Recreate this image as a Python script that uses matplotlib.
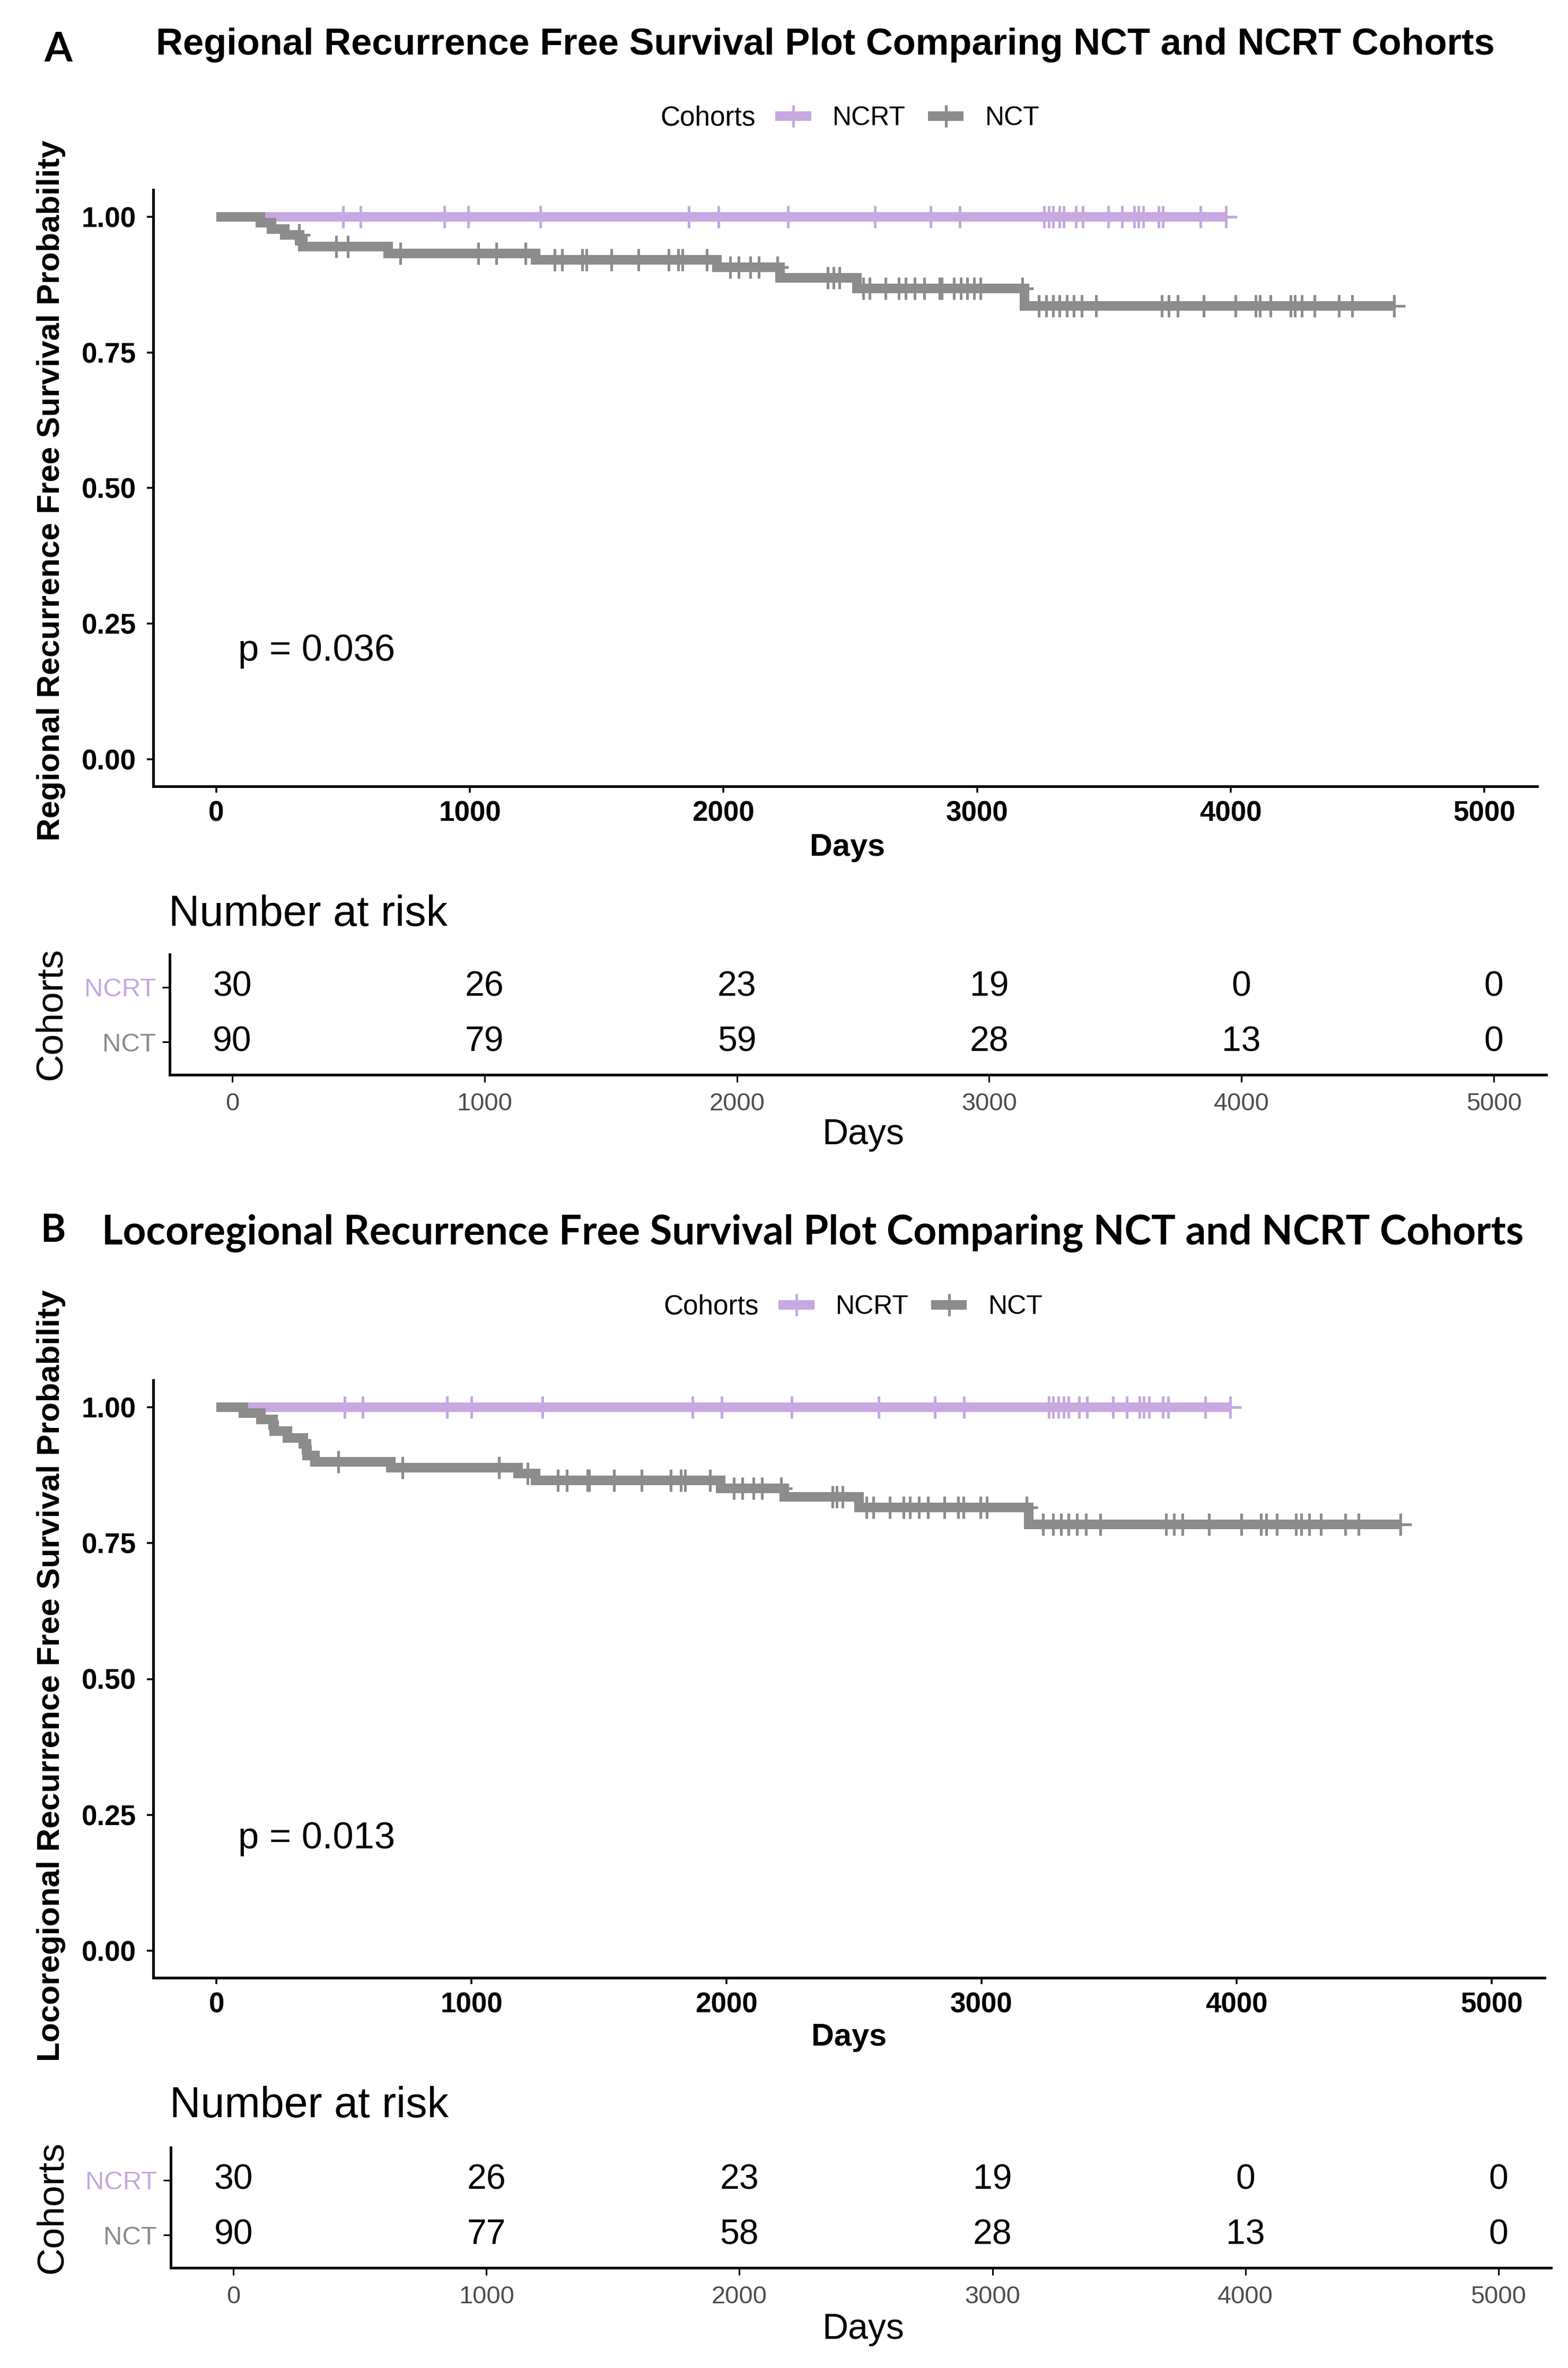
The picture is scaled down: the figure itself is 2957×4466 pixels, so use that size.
import numpy as np
import matplotlib
matplotlib.use('Agg')
import matplotlib.pyplot as plt
from matplotlib.lines import Line2D

plt.rcParams['font.family'] = ['Liberation Sans', 'DejaVu Sans']

# ---------------- data ----------------
cohorts = ['NCRT', 'NCT']
risk_times = [0, 1000, 2000, 3000, 4000, 5000]
x_ticks = [0, 1000, 2000, 3000, 4000, 5000]
y_ticks = [0.00, 0.25, 0.50, 0.75, 1.00]

# Panel A - regional recurrence free survival
A_ncrt_times = [0]
A_ncrt_surv = [1.0]
A_ncrt_cens = [500, 569, 900, 994, 1277, 1863, 1981, 2255, 2598, 2817, 2931, 3264, 3282,
               3299, 3325, 3342, 3389, 3417, 3516, 3571, 3620, 3637, 3654, 3715, 3733, 3880, 3980]
A_nct_times = [0, 175, 219, 271, 330, 342, 678, 1259, 1974, 2222, 2525, 3186]
A_nct_surv = [1.0, 0.989, 0.978, 0.967, 0.956, 0.945, 0.933, 0.921, 0.907, 0.888, 0.868, 0.836]
A_nct_cens = [326, 474, 519, 727, 1034, 1105, 1219, 1334, 1363, 1443, 1460, 1559, 1665, 1783,
              1821, 1838, 1934, 2027, 2060, 2105, 2140, 2213, 2412, 2433, 2456, 2551, 2577, 2638,
              2692, 2718, 2753, 2791, 2853, 2860, 2909, 2935, 2961, 2987, 3013, 3178, 3243, 3273,
              3299, 3325, 3354, 3382, 3412, 3469, 3727, 3755, 3790, 3894, 4019, 4097, 4114, 4157,
              4235, 4253, 4279, 4331, 4426, 4478, 4643]
A_risk_ncrt = [30, 26, 23, 19, 0, 0]
A_risk_nct = [90, 79, 59, 28, 13, 0]
A_pval = 'p = 0.036'

# Panel B - locoregional recurrence free survival
B_ncrt_times = [0]
B_ncrt_surv = [1.0]
B_ncrt_cens = [502, 573, 904, 999, 1278, 1867, 1981, 2255, 2596, 2816, 2932, 3263, 3280,
               3302, 3323, 3340, 3383, 3413, 3516, 3569, 3619, 3637, 3657, 3711, 3731, 3878, 3974]
B_nct_times = [0, 106, 174, 222, 226, 278, 340, 352, 356, 386, 683, 1183, 1252, 1976, 2226, 2519, 3185]
B_nct_surv = [1.0, 0.989, 0.978, 0.967, 0.956, 0.944, 0.933, 0.922, 0.911, 0.900, 0.889, 0.878,
              0.866, 0.851, 0.835, 0.816, 0.785]
B_nct_cens = [478, 730, 1107, 1220, 1338, 1373, 1455, 1462, 1559, 1666, 1781, 1821, 1838, 1936,
              2028, 2062, 2105, 2140, 2214, 2416, 2433, 2455, 2548, 2576, 2640, 2694, 2719, 2754,
              2789, 2854, 2909, 2930, 2995, 3021, 3176, 3242, 3280, 3311, 3340, 3375, 3409, 3466,
              3723, 3754, 3788, 3892, 4018, 4095, 4116, 4159, 4233, 4254, 4285, 4331, 4426, 4478, 4642]
B_risk_ncrt = [30, 26, 23, 19, 0, 0]
B_risk_nct = [90, 77, 58, 28, 13, 0]
B_pval = 'p = 0.013'

# ---------------- style ----------------
C_NCRT = '#C6A9E0'
C_NCT = '#8C8C8C'
W, H, DPI = 2957, 4466, 300
XLIM = (-248, 5208)
LW_PX = 18
MS_PX = 42
MEW_PX = 5

fig = plt.figure(figsize=(W / DPI, H / DPI), dpi=DPI)
fig.patch.set_facecolor('white')


def pt(px):
    return px * 72.0 / DPI


def rect(x0, y0, x1, y1):
    return [x0 / W, 1 - y1 / H, (x1 - x0) / W, (y1 - y0) / H]


def ftext(x, y, s, **kw):
    return fig.text(x / W, 1 - y / H, s, **kw)


def fit(t, target, along='w'):
    r = fig.canvas.get_renderer()
    bb = t.get_window_extent(renderer=r)
    cur = bb.width if along == 'w' else bb.height
    t.set_fontsize(t.get_fontsize() * target / cur)


def style_spines(ax):
    for s in ['top', 'right']:
        ax.spines[s].set_visible(False)
    for s in ['left', 'bottom']:
        ax.spines[s].set_linewidth(pt(5))


def km_panel(box, curves, pval, pval_xy):
    ax = fig.add_axes(rect(*box))
    ax.set_facecolor('white')
    for times, surv, cens, col in curves:
        t = np.asarray(times, float)
        s = np.asarray(surv, float)
        c = np.asarray(cens, float)
        end = max(t.max(), c.max())
        xs = np.append(t, end)
        ys = np.append(s, s[-1])
        ax.step(xs, ys, where='post', color=col, lw=pt(LW_PX),
                solid_capstyle='butt', solid_joinstyle='miter', zorder=2)
        cy = s[np.searchsorted(t, c, side='right') - 1]
        ax.plot(c, cy, ls='none', marker='+', ms=pt(MS_PX), mew=pt(MEW_PX), color=col, zorder=3)
    ax.set_xlim(*XLIM)
    ax.set_ylim(-0.05, 1.05)
    ax.set_xticks(x_ticks)
    ax.set_xticklabels([str(v) for v in x_ticks])
    ax.set_yticks(y_ticks)
    ax.set_yticklabels(['%.2f' % v for v in y_ticks])
    ax.tick_params(axis='both', length=pt(12), width=pt(3.5), labelsize=pt(53), color='black',
                   labelcolor='black')
    ax.tick_params(axis='x', pad=pt(15))
    ax.tick_params(axis='y', pad=pt(20))
    for lab in ax.get_xticklabels() + ax.get_yticklabels():
        lab.set_fontweight('bold')
    style_spines(ax)
    t = ax.text(0, 0, pval, transform=fig.transFigure, ha='left', va='center', fontsize=pt(70))
    t.set_position((pval_xy[0] / W, 1 - pval_xy[1] / H))
    fit(t, 296)
    return ax


def risk_panel(box, ncrt_n, nct_n):
    ax = fig.add_axes(rect(*box))
    ax.set_xlim(*XLIM)
    ax.set_ylim(2.6, 0.4)
    for i, vals in enumerate([ncrt_n, nct_n]):
        for tt, n in zip(risk_times, vals):
            ax.text(tt, i + 1, str(n), ha='center', va='center', fontsize=pt(66), color='black')
    ax.set_yticks([1, 2])
    ax.set_yticklabels(cohorts)
    for lab, col in zip(ax.get_yticklabels(), [C_NCRT, C_NCT]):
        lab.set_color(col)
    ax.set_xticks(risk_times)
    ax.set_xticklabels([str(v) for v in risk_times])
    ax.tick_params(axis='y', length=pt(14), width=pt(3), labelsize=pt(49), pad=pt(12))
    ax.tick_params(axis='x', length=pt(14), width=pt(3), labelsize=pt(47), pad=pt(19),
                   labelcolor='#4D4D4D')
    style_spines(ax)
    return ax


def legend(y, cohorts_left, handle_left):
    t = ftext(cohorts_left, y, 'Cohorts', ha='left', va='center', fontsize=pt(50))
    fit(t, 180)
    handles = [Line2D([], [], color=C_NCRT, lw=pt(LW_PX), marker='+', ms=pt(MS_PX),
                      mew=pt(MEW_PX), solid_capstyle='butt'),
               Line2D([], [], color=C_NCT, lw=pt(LW_PX), marker='+', ms=pt(MS_PX),
                      mew=pt(MEW_PX), solid_capstyle='butt')]
    fig.legend(handles, cohorts, loc='center left',
               bbox_to_anchor=(handle_left / W, 1 - y / H), ncol=2, frameon=False,
               fontsize=pt(50), handlelength=1.35, handletextpad=0.8, columnspacing=0.85,
               borderpad=0, borderaxespad=0, numpoints=1)


# ---------------- Panel A ----------------
ftext(110, 94, 'A', family=['Lato', 'DejaVu Sans'], fontweight='bold', fontsize=pt(76),
      ha='center', va='center')
t = ftext(1556, 103, 'Regional Recurrence Free Survival Plot Comparing NCT and NCRT Cohorts',
          fontweight='bold', fontsize=pt(64), ha='center', va='baseline')
fit(t, 2529)
legend(223, 1245, 1462)
km_panel((289, 358, 2899, 1483),
         [(A_ncrt_times, A_ncrt_surv, A_ncrt_cens, C_NCRT),
          (A_nct_times, A_nct_surv, A_nct_cens, C_NCT)], A_pval, (449, 1228))
t = ftext(97, 925, 'Regional Recurrence Free Survival Probability', rotation=90,
          fontweight='bold', fontsize=pt(54), ha='center', va='center')
fit(t, 1322, 'h')
t = ftext(1598, 1598, 'Days', fontweight='bold', fontsize=pt(59), ha='center', va='center')
fit(t, 142)
t = ftext(318, 1725, 'Number at risk', fontsize=pt(80), ha='left', va='center')
fit(t, 526)
risk_panel((320, 1800, 2916, 2027), A_risk_ncrt, A_risk_nct)
t = ftext(97, 1912, 'Cohorts', rotation=90, fontsize=pt(70), ha='center', va='center')
fit(t, 250, 'h')
t = ftext(1628, 2140, 'Days', fontsize=pt(68), ha='center', va='center')
fit(t, 155)

# ---------------- Panel B ----------------
ftext(100, 2322, 'B', family=['Lato', 'DejaVu Sans'], fontweight='bold', fontsize=pt(72),
      ha='center', va='center')
t = ftext(1533, 2347, 'Locoregional Recurrence Free Survival Plot Comparing NCT and NCRT Cohorts',
          family=['Lato', 'DejaVu Sans'], fontweight='bold', fontsize=pt(66), ha='center',
          va='baseline')
fit(t, 2688)
legend(2465, 1251, 1468)
km_panel((289, 2603, 2913, 3730),
         [(B_ncrt_times, B_ncrt_surv, B_ncrt_cens, C_NCRT),
          (B_nct_times, B_nct_surv, B_nct_cens, C_NCT)], B_pval, (449, 3468))
t = ftext(97, 3160, 'Locoregional Recurrence Free Survival Probability', rotation=90,
          fontweight='bold', fontsize=pt(54), ha='center', va='center')
fit(t, 1458, 'h')
t = ftext(1601, 3843, 'Days', fontweight='bold', fontsize=pt(59), ha='center', va='center')
fit(t, 142)
t = ftext(320, 3972, 'Number at risk', fontsize=pt(80), ha='left', va='center')
fit(t, 526)
risk_panel((322, 4050, 2925, 4277), B_risk_ncrt, B_risk_nct)
t = ftext(99, 4163, 'Cohorts', rotation=90, fontsize=pt(70), ha='center', va='center')
fit(t, 250, 'h')
t = ftext(1628, 4393, 'Days', fontsize=pt(68), ha='center', va='center')
fit(t, 155)

fig.savefig('out.png', dpi=DPI, facecolor='white')
